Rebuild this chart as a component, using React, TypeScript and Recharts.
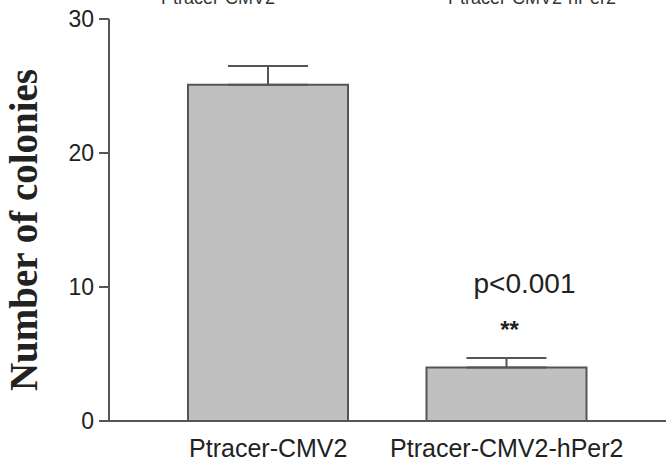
import React from "react";
import { BarChart, Bar, XAxis, YAxis, ErrorBar, LabelList, Label } from "recharts";

const categories = ["Ptracer-CMV2", "Ptracer-CMV2-hPer2"];
const colonies = [25.1, 4.0];
const sem = [1.4, 0.7];
const pLabels = ["", "p<0.001"];
const stars = ["", "**"];
const yTicks = [0, 10, 20, 30];
const topCaptions = ["Ptracer-CMV2", "Ptracer-CMV2-hPer2"];

const data = categories.map((c, i) => ({
  name: c,
  value: colonies[i],
  err: [0, sem[i]],
  p: pLabels[i],
  s: stars[i],
}));

const SANS = "'Liberation Sans', Arial, sans-serif";
const SERIF = "'Liberation Serif', 'Times New Roman', serif";

const renderAnnot = (props: any) => {
  const vb = props.viewBox || props;
  const { x, y, width } = vb;
  const idx = props.index;
  const p = data[idx]?.p;
  const s = data[idx]?.s;
  if (!p) return null;
  const cx = x + width / 2;
  return (
    <g>
      <text x={cx + 18} y={y - 74} textAnchor="middle" fontFamily={SANS} fontSize={28} fill="#222">
        {p}
      </text>
      <text x={cx + 3} y={y - 29} textAnchor="middle" fontFamily={SANS} fontSize={24} fontWeight="bold" fill="#222">
        {s}
      </text>
    </g>
  );
};

const renderYLabel = () => (
  <text
    x={37}
    y={230}
    transform="rotate(-90, 37, 230)"
    textAnchor="middle"
    fontFamily={SERIF}
    fontWeight="bold"
    fontSize={39}
    fill="#222"
  >
    Number of colonies
  </text>
);

export default function App() {
  return (
    <div style={{ position: "absolute", left: 0, top: 0, width: 666, height: 462, background: "#fff" }}>
      <BarChart
        width={666}
        height={462}
        data={data}
        margin={{ top: 19, right: 0, left: 0, bottom: 0 }}
      >
        <XAxis
          dataKey="name"
          height={41}
          padding={{ left: 40, right: 40 }}
          tickLine={false}
          tickSize={0}
          tickMargin={18}
          axisLine={{ stroke: "#555", strokeWidth: 2 }}
          tick={{ fontFamily: SANS, fontSize: 25, fill: "#222" }}
          interval={0}
        />
        <YAxis
          width={109}
          domain={[0, 30]}
          ticks={yTicks}
          tickSize={10}
          tickMargin={5}
          axisLine={{ stroke: "#555", strokeWidth: 2 }}
          tickLine={{ stroke: "#555", strokeWidth: 2 }}
          tick={{ fontFamily: SANS, fontSize: 23, fill: "#222" }}
        >
          <Label content={renderYLabel} />
        </YAxis>
        <Bar
          dataKey="value"
          barSize={160}
          fill="#c0c0c0"
          stroke="#555"
          strokeWidth={2}
          isAnimationActive={false}
        >
          <ErrorBar dataKey="err" width={40} stroke="#555" strokeWidth={2} direction="y" />
          <LabelList dataKey="p" content={renderAnnot} />
        </Bar>
      </BarChart>
      <svg
        width={666}
        height={462}
        style={{ position: "absolute", left: 0, top: 0, pointerEvents: "none" }}
      >
        <text x={218} y={4} textAnchor="middle" fontFamily={SANS} fontSize={18} fill="#333">
          {topCaptions[0]}
        </text>
        <text x={532} y={4} textAnchor="middle" fontFamily={SANS} fontSize={18} fill="#333">
          {topCaptions[1]}
        </text>
      </svg>
    </div>
  );
}
